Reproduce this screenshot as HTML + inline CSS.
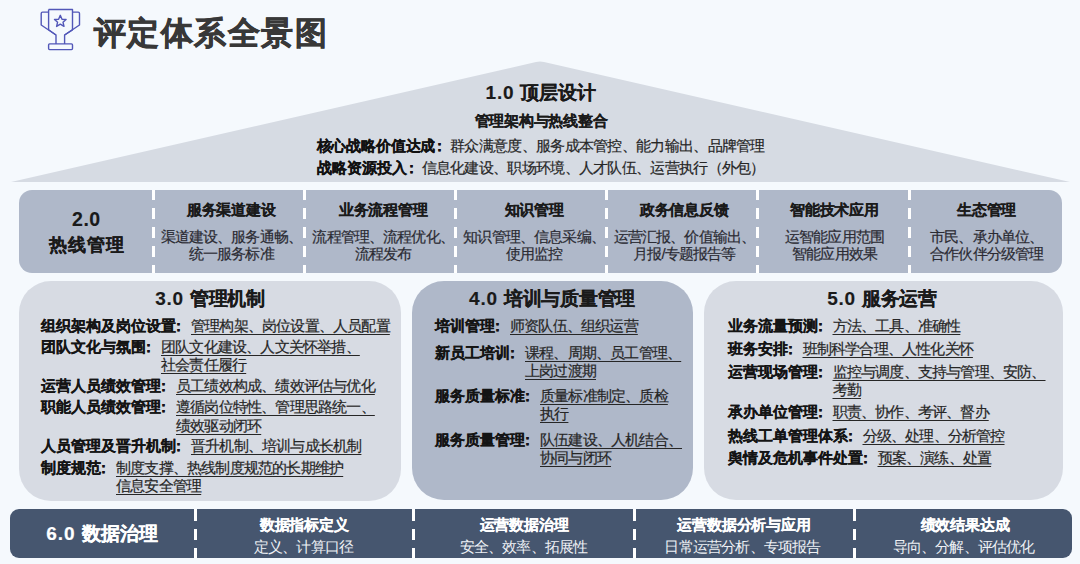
<!DOCTYPE html>
<html><head><meta charset="utf-8">
<style>
*{margin:0;padding:0;box-sizing:border-box}
html,body{width:1080px;height:564px;overflow:hidden;background:#f5f9fd}
body{position:relative;font-family:"Liberation Sans",sans-serif;color:#1a1a1a}
.abs{position:absolute}
.t{position:absolute;white-space:nowrap;text-align:center}
.l{position:absolute;white-space:nowrap;text-align:left}
.b{font-weight:900;-webkit-text-stroke:0.15px currentColor}
b{font-weight:900;color:#111;-webkit-text-stroke:0.2px #111}
.panel{position:absolute}
.item{position:absolute;display:flex;white-space:nowrap}
.lb{font-weight:900;color:#141414;-webkit-text-stroke:0.2px #141414}
.tx{position:relative;top:0px;color:#262626;-webkit-text-stroke:0.2px #262626;text-decoration:underline;text-decoration-thickness:1px;text-underline-offset:3px}
.c{position:relative;left:-5px}
.dash2{background:repeating-linear-gradient(to bottom,#fff 0,#fff 11px,transparent 11px,transparent 19px);background-position:0 1px}
.dash{background:repeating-linear-gradient(to bottom,#fff 0,#fff 11px,transparent 11px,transparent 19px);background-position:0 -1px}
</style></head><body>
<svg class="abs" style="left:30px;top:0px" width="60" height="60" viewBox="0 0 60 60" fill="none" stroke="#5257b8" stroke-width="1.4" stroke-linejoin="round">
  <path d="M18.6 9.5 H42.5 V29.8 L34.6 35 V43.9 M18.6 9.5 V29.8 L26 35 V43.9"/>
  <path d="M18.6 12.1 H12.5 Q11.2 12.1 11.2 13.4 V25 L26 35"/>
  <path d="M42.5 12.1 H48.2 Q49.5 12.1 49.5 13.4 V25 L34.6 35"/>
  <rect x="18.6" y="43.9" width="23.9" height="5.7" rx="1"/>
  <path d="M30.3 15.3 L32 19.2 L36.1 19.5 L33 22.2 L34 26.4 L30.3 24.1 L26.6 26.4 L27.6 22.2 L24.5 19.5 L28.6 19.2 Z"/>
</svg>
<div class="l b" style="left:93.5px;top:12px;font-size:32px;letter-spacing:1.6px;color:#383838;-webkit-text-stroke:0.6px #383838">评定体系全景图</div>
<svg class="abs" style="left:0;top:0" width="1080" height="190"><path d="M11 182 L536 62 Q540 61 544 62 L1070 182 Z" fill="#d6dbe3"/></svg>
<div class="t b" style="left:1px;width:1080px;top:80px;font-size:19px;line-height:26px"><span style="letter-spacing:0.8px">1.0 </span>顶层设计</div>
<div class="t b" style="left:0;width:1080px;top:110px;font-size:15px;letter-spacing:-0.25px;margin-left:1px;line-height:22px">管理架构与热线整合</div>
<div class="l" style="left:316.5px;top:135px;font-size:15px;letter-spacing:-0.7px;line-height:22px;color:#262626;-webkit-text-stroke:0.2px #262626"><b style="font-size:15px;letter-spacing:-0.15px">核心战略价值达成<span class="c" style="left:-3px">：</span></b>群众满意度、服务成本管控、能力输出、品牌管理</div>
<div class="l" style="left:316.5px;top:157px;font-size:15px;letter-spacing:-0.7px;line-height:22px;color:#262626;-webkit-text-stroke:0.2px #262626"><b style="font-size:15px;letter-spacing:0px">战略资源投入<span class="c" style="left:-3px">：</span></b>信息化建设、职场环境、人才队伍、运营执行（外包）</div>
<div class="panel" style="left:19px;top:190px;width:1043px;height:83px;background:#afb8c9;border-radius:13px"></div>
<div class="panel" style="left:19px;top:281px;width:382px;height:219.7px;background:#d7dbe3;border-radius:32px"></div>
<div class="panel" style="left:411.5px;top:281px;width:281px;height:219px;background:#afb8c9;border-radius:32px"></div>
<div class="panel" style="left:704px;top:281px;width:359px;height:219px;background:#d7dbe3;border-radius:32px"></div>
<div class="panel" style="left:10px;top:509px;width:1061.5px;height:48.5px;background:#46566f;border-radius:9px"></div>
<div class="t b" style="left:19px;width:134.7px;top:208px;font-size:19.5px;line-height:22px"><span style="letter-spacing:0.5px">2.0</span></div>
<div class="t b" style="left:19px;width:134.7px;top:232px;font-size:18px;letter-spacing:1px;line-height:26px;margin-left:0.5px">热线管理</div>
<div class="t b" style="left:156.04999999999998px;width:150.3px;top:199.5px;font-size:15px;letter-spacing:-0.3px;line-height:20px">服务渠道建设</div>
<div class="t" style="left:156.2px;width:150.3px;top:227.5px;font-size:15px;letter-spacing:-0.85px;line-height:17px;color:#2b2b33;-webkit-text-stroke:0.2px #2b2b33">渠道建设、服务通畅、<br>统一服务标准</div>
<div class="t b" style="left:307.55px;width:151.3px;top:199.5px;font-size:15px;letter-spacing:-0.3px;line-height:20px">业务流程管理</div>
<div class="t" style="left:307.55px;width:151.3px;top:227.5px;font-size:15px;letter-spacing:-0.85px;line-height:17px;color:#2b2b33;-webkit-text-stroke:0.2px #2b2b33">流程管理、流程优化、<br>流程发布</div>
<div class="t b" style="left:458.25px;width:151.4px;top:199.5px;font-size:15px;letter-spacing:-0.3px;line-height:20px">知识管理</div>
<div class="t" style="left:458.40000000000003px;width:151.4px;top:227.5px;font-size:15px;letter-spacing:-0.85px;line-height:17px;color:#2b2b33;-webkit-text-stroke:0.2px #2b2b33">知识管理、信息采编、<br>使用监控</div>
<div class="t b" style="left:608.75px;width:150.9px;top:199.5px;font-size:15px;letter-spacing:-0.3px;line-height:20px">政务信息反馈</div>
<div class="t" style="left:608.95px;width:150.9px;top:227.5px;font-size:15px;letter-spacing:-0.85px;line-height:17px;color:#2b2b33;-webkit-text-stroke:0.2px #2b2b33">运营汇报、价值输出、<br>月报/专题报告等</div>
<div class="t b" style="left:758.75px;width:151.4px;top:199.5px;font-size:15px;letter-spacing:-0.3px;line-height:20px">智能技术应用</div>
<div class="t" style="left:758.9px;width:151.4px;top:227.5px;font-size:15px;letter-spacing:-0.85px;line-height:17px;color:#2b2b33;-webkit-text-stroke:0.2px #2b2b33">运智能应用范围<br>智能应用效果</div>
<div class="t b" style="left:910.05px;width:153.0px;top:199.5px;font-size:15px;letter-spacing:-0.3px;line-height:20px">生态管理</div>
<div class="t" style="left:910.2px;width:153.0px;top:227.5px;font-size:15px;letter-spacing:-0.85px;line-height:17px;color:#2b2b33;-webkit-text-stroke:0.2px #2b2b33">市民、承办单位、<br>合作伙伴分级管理</div>
<div class="abs dash" style="left:152.2px;top:190px;width:3px;height:83px"></div>
<div class="abs dash" style="left:302.5px;top:190px;width:3px;height:83px"></div>
<div class="abs dash" style="left:453.8px;top:190px;width:3px;height:83px"></div>
<div class="abs dash" style="left:605.2px;top:190px;width:3px;height:83px"></div>
<div class="abs dash" style="left:756.1px;top:190px;width:3px;height:83px"></div>
<div class="abs dash" style="left:907.5px;top:190px;width:3px;height:83px"></div>
<div class="t b" style="left:19px;width:382px;top:286px;font-size:19px;line-height:26px"><span style="letter-spacing:0.8px">3.0 </span><span style="letter-spacing:-0.3px">管理机制</span></div>
<div class="t b" style="left:411.5px;width:281px;top:286px;font-size:19px;line-height:26px"><span style="letter-spacing:0.8px">4.0 </span><span style="letter-spacing:-0.3px">培训与质量管理</span></div>
<div class="t b" style="left:702.5px;width:359px;top:286px;font-size:19px;line-height:26px"><span style="letter-spacing:0.8px">5.0 </span><span style="letter-spacing:-0.3px">服务运营</span></div>
<div class="item" style="left:41px;top:316.50px;line-height:18.2px"><span class="lb" style="font-size:15px;letter-spacing:0px">组织架构及岗位设置<span class="c">：</span></span><span class="tx" style="font-size:15px;letter-spacing:-0.8px">管理构架、岗位设置、人员配置</span></div>
<div class="item" style="left:41px;top:337.70px;line-height:18.2px"><span class="lb" style="font-size:15px;letter-spacing:0px">团队文化与氛围<span class="c">：</span></span><span class="tx" style="font-size:15px;letter-spacing:-0.8px">团队文化建设、人文关怀举措、<br>社会责任履行</span></div>
<div class="item" style="left:41px;top:377.10px;line-height:18.2px"><span class="lb" style="font-size:15px;letter-spacing:0px">运营人员绩效管理<span class="c">：</span></span><span class="tx" style="font-size:15px;letter-spacing:-0.8px">员工绩效构成、绩效评估与优化</span></div>
<div class="item" style="left:41px;top:398.30px;line-height:18.2px"><span class="lb" style="font-size:15px;letter-spacing:0px">职能人员绩效管理<span class="c">：</span></span><span class="tx" style="font-size:15px;letter-spacing:-0.8px">遵循岗位特性、管理思路统一、<br>绩效驱动闭环</span></div>
<div class="item" style="left:41px;top:436.70px;line-height:18.2px"><span class="lb" style="font-size:15px;letter-spacing:0px">人员管理及晋升机制<span class="c">：</span></span><span class="tx" style="font-size:15px;letter-spacing:-0.8px">晋升机制、培训与成长机制</span></div>
<div class="item" style="left:41px;top:458.90px;line-height:18.2px"><span class="lb" style="font-size:15px;letter-spacing:0px">制度规范<span class="c">：</span></span><span class="tx" style="font-size:15px;letter-spacing:-0.8px">制度支撑、热线制度规范的长期维护<br>信息安全管理</span></div>
<div class="item" style="left:435px;top:316.50px;line-height:18.2px"><span class="lb" style="font-size:15px;letter-spacing:0px">培训管理<span class="c">：</span></span><span class="tx" style="font-size:15px;letter-spacing:-0.8px">师资队伍、组织运营</span></div>
<div class="item" style="left:435px;top:343.70px;line-height:18.2px"><span class="lb" style="font-size:15px;letter-spacing:0px">新员工培训<span class="c">：</span></span><span class="tx" style="font-size:15px;letter-spacing:-0.8px">课程、周期、员工管理、<br>上岗过渡期</span></div>
<div class="item" style="left:435px;top:387.10px;line-height:18.2px"><span class="lb" style="font-size:15px;letter-spacing:0px">服务质量标准<span class="c">：</span></span><span class="tx" style="font-size:15px;letter-spacing:-0.8px">质量标准制定、质检<br>执行</span></div>
<div class="item" style="left:435px;top:431.00px;line-height:18.2px"><span class="lb" style="font-size:15px;letter-spacing:0px">服务质量管理<span class="c">：</span></span><span class="tx" style="font-size:15px;letter-spacing:-0.8px">队伍建设、人机结合、<br>协同与闭环</span></div>
<div class="item" style="left:727.5px;top:316.50px;line-height:18.2px"><span class="lb" style="font-size:15px;letter-spacing:0px">业务流量预测<span class="c">：</span></span><span class="tx" style="font-size:15px;letter-spacing:-0.8px">方法、工具、准确性</span></div>
<div class="item" style="left:727.5px;top:339.80px;line-height:18.2px"><span class="lb" style="font-size:15px;letter-spacing:0px">班务安排<span class="c">：</span></span><span class="tx" style="font-size:15px;letter-spacing:-0.8px">班制科学合理、人性化关怀</span></div>
<div class="item" style="left:727.5px;top:362.60px;line-height:18.2px"><span class="lb" style="font-size:15px;letter-spacing:0px">运营现场管理<span class="c">：</span></span><span class="tx" style="font-size:15px;letter-spacing:-0.8px">监控与调度、支持与管理、安防、<br>考勤</span></div>
<div class="item" style="left:727.5px;top:403.10px;line-height:18.2px"><span class="lb" style="font-size:15px;letter-spacing:0px">承办单位管理<span class="c">：</span></span><span class="tx" style="font-size:15px;letter-spacing:-0.8px">职责、协作、考评、督办</span></div>
<div class="item" style="left:727.5px;top:426.90px;line-height:18.2px"><span class="lb" style="font-size:15px;letter-spacing:0px">热线工单管理体系<span class="c">：</span></span><span class="tx" style="font-size:15px;letter-spacing:-0.8px">分级、处理、分析管控</span></div>
<div class="item" style="left:727.5px;top:448.70px;line-height:18.2px"><span class="lb" style="font-size:15px;letter-spacing:0px">舆情及危机事件处置<span class="c">：</span></span><span class="tx" style="font-size:15px;letter-spacing:-0.8px">预案、演练、处置</span></div>
<div class="t b" style="left:9.5px;width:185px;top:521px;font-size:19px;line-height:26px;color:#fff;-webkit-text-stroke:0.2px #fff"><span style="letter-spacing:1px">6.0 </span>数据治理</div>
<div class="t b" style="left:195px;width:218.5px;top:515px;font-size:15px;letter-spacing:-0.2px;line-height:20px;color:#fff;-webkit-text-stroke:0.15px #fff">数据指标定义</div>
<div class="t" style="left:194.3px;width:218.5px;top:537px;font-size:15px;letter-spacing:-0.8px;line-height:20px;color:#eef1f5">定义、计算口径</div>
<div class="t b" style="left:413.7px;width:220.5px;top:515px;font-size:15px;letter-spacing:-0.2px;line-height:20px;color:#fff;-webkit-text-stroke:0.15px #fff">运营数据治理</div>
<div class="t" style="left:413.2px;width:220.5px;top:537px;font-size:15px;letter-spacing:-0.8px;line-height:20px;color:#eef1f5">安全、效率、拓展性</div>
<div class="t b" style="left:634px;width:220.0px;top:515px;font-size:15px;letter-spacing:-0.2px;line-height:20px;color:#fff;-webkit-text-stroke:0.15px #fff">运营数据分析与应用</div>
<div class="t" style="left:632.6px;width:220.0px;top:537px;font-size:15px;letter-spacing:-0.8px;line-height:20px;color:#eef1f5">日常运营分析、专项报告</div>
<div class="t b" style="left:856.5px;width:217.0px;top:515px;font-size:15px;letter-spacing:-0.2px;line-height:20px;color:#fff;-webkit-text-stroke:0.15px #fff">绩效结果达成</div>
<div class="t" style="left:855.2px;width:217.0px;top:537px;font-size:15px;letter-spacing:-0.8px;line-height:20px;color:#eef1f5">导向、分解、评估优化</div>
<div class="abs dash2" style="left:193.5px;top:509px;width:3px;height:48.5px"></div>
<div class="abs dash2" style="left:412.0px;top:509px;width:3px;height:48.5px"></div>
<div class="abs dash2" style="left:632.5px;top:509px;width:3px;height:48.5px"></div>
<div class="abs dash2" style="left:852.5px;top:509px;width:3px;height:48.5px"></div>
</body></html>
